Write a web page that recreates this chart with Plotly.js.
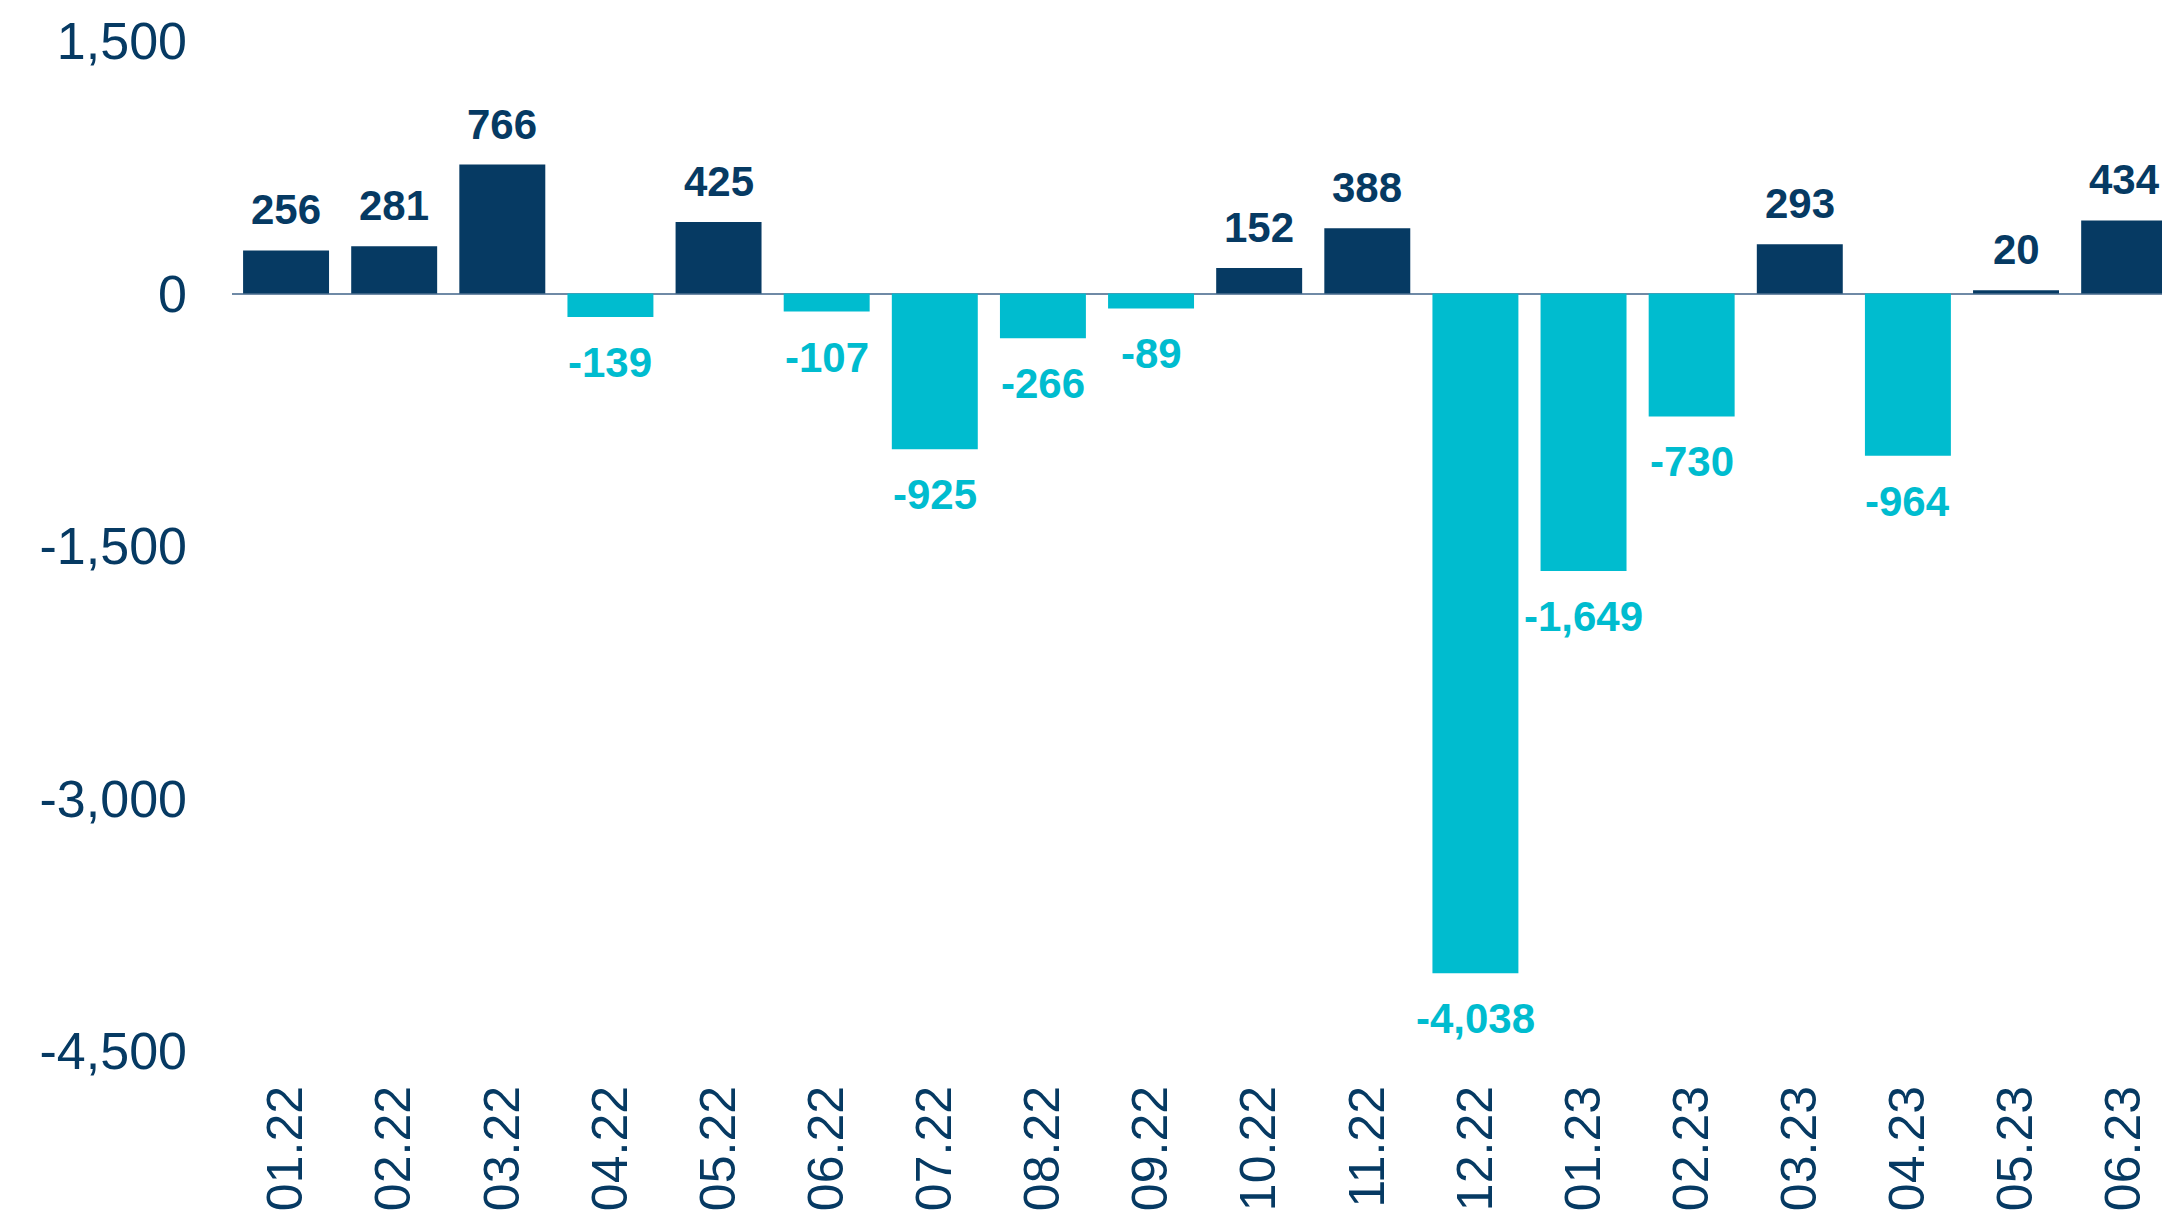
<!DOCTYPE html>
<html>
<head>
<meta charset="utf-8">
<script src="https://cdn.plot.ly/plotly-3.0.1.min.js"></script>
<style>
html,body{margin:0;padding:0;background:#fff;overflow:hidden;}
#chart{width:2162px;height:1219px;}
</style>
</head>
<body>
<div id="chart"></div>
<script>
const categories = ["01.22","02.22","03.22","04.22","05.22","06.22","07.22","08.22","09.22","10.22","11.22","12.22","01.23","02.23","03.23","04.23","05.23","06.23"];
const values = [256, 281, 766, -139, 425, -107, -925, -266, -89, 152, 388, -4038, -1649, -730, 293, -964, 20, 434];
const yTickVals = [1500, 0, -1500, -3000, -4500];
const yTickText = ["1,500", "0", "-1,500", "-3,000", "-4,500"];

const NAVY = '#063a63';
const CYAN = '#00bccf';
const FONT = 'Liberation Sans, Arial, sans-serif';

const colors = values.map(v => v >= 0 ? NAVY : CYAN);
const fmt = v => (v < 0 ? '-' : '') + Math.abs(v).toLocaleString('en-US');

// category axis: annotation x given by category index
const annotations = values.map((v, i) => ({
  x: i,
  y: v,
  xref: 'x', yref: 'y',
  text: '<b>' + fmt(v) + '</b>',
  showarrow: false,
  xanchor: 'center',
  yanchor: v >= 0 ? 'bottom' : 'top',
  yshift: v >= 0 ? 15 : -20,
  font: {family: FONT, size: 42, color: colors[i]}
}));

const trace = {
  type: 'bar',
  x: categories,
  y: values,
  marker: {color: colors, line: {width: 0}},
  hoverinfo: 'x+y'
};

const layout = {
  width: 2162,
  height: 1219,
  margin: {l: 232, r: 0, t: 41, b: 168, pad: 0},
  paper_bgcolor: '#ffffff',
  plot_bgcolor: '#ffffff',
  showlegend: false,
  bargap: 0.205,
  xaxis: {
    type: 'category',
    categoryorder: 'array',
    categoryarray: categories,
    range: [-0.5, 17.35],
    showgrid: false,
    showline: false,
    zeroline: false,
    ticks: '',
    tickangle: -90,
    ticklabelstandoff: 24,
    tickfont: {family: FONT, size: 50, color: NAVY}
  },
  yaxis: {
    range: [-4500, 1500],
    tickvals: yTickVals,
    ticktext: yTickText,
    showgrid: false,
    showline: false,
    zeroline: true,
    zerolinecolor: '#6f8aa6',
    zerolinewidth: 2,
    ticks: '',
    ticklabelstandoff: 44,
    tickfont: {family: FONT, size: 52, color: NAVY}
  },
  annotations: annotations
};

Plotly.newPlot('chart', [trace], layout, {displayModeBar: false, staticPlot: true});
</script>
</body>
</html>
